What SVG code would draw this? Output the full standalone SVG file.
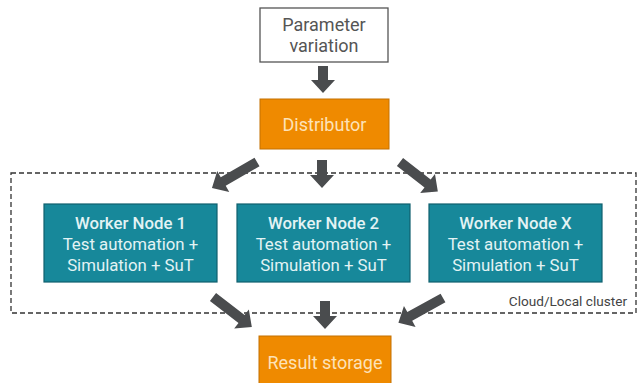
<svg xmlns="http://www.w3.org/2000/svg" width="637" height="383" viewBox="0 0 637 383">
<style>
text{font-family:"Roboto","Liberation Sans",sans-serif;text-anchor:middle}
.org{fill:#ef8a00;stroke:#c47000;stroke-width:1}
.wk{fill:#17889a;stroke:#10606e;stroke-width:1.2}
.wt{fill:#e3f3f4;font-size:16.8px}
.ot{fill:#fde2b8;font-size:18px}
.arr{fill:#4a4c4e}
</style>
<rect width="637" height="383" fill="#ffffff"/>
<g id="cluster">
<rect x="11" y="173" width="625" height="140" fill="none" stroke="#333" stroke-width="1.3" stroke-dasharray="5,3"/>
<text x="627" y="306" style="text-anchor:end;font-size:13.6px;fill:#444">Cloud/Local cluster</text>
</g>
<g id="param">
<rect x="260" y="8" width="128" height="54" fill="#fff" stroke="#555" stroke-width="1.3"/>
<text x="324" y="31" style="font-size:18px;fill:#555">Parameter</text>
<text x="324" y="52" style="font-size:18px;fill:#555">variation</text>
</g>
<g id="distributor">
<rect class="org" x="260" y="99" width="129" height="50"/>
<text class="ot" x="324.5" y="131">Distributor</text>
</g>
<g id="worker1">
<rect class="wk" x="44" y="204" width="173" height="78"/>
<text class="wt" x="130.5" y="229" font-weight="500">Worker Node 1</text>
<text class="wt" x="130.5" y="250">Test automation +</text>
<text class="wt" x="130.5" y="271">Simulation + SuT</text>
</g>
<g id="worker2">
<rect class="wk" x="237" y="204" width="173" height="78"/>
<text class="wt" x="323.5" y="229" font-weight="500">Worker Node 2</text>
<text class="wt" x="323.5" y="250">Test automation +</text>
<text class="wt" x="323.5" y="271">Simulation + SuT</text>
</g>
<g id="workerX">
<rect class="wk" x="429" y="204" width="173" height="78"/>
<text class="wt" x="515.5" y="229" font-weight="500">Worker Node X</text>
<text class="wt" x="515.5" y="250">Test automation +</text>
<text class="wt" x="515.5" y="271">Simulation + SuT</text>
</g>
<g id="result">
<rect class="org" x="259" y="336" width="132" height="52"/>
<text class="ot" x="325" y="369">Result storage</text>
</g>
<g id="connectors">
<path class="arr" transform="translate(323,66) rotate(90)" d="M0,-5 L14,-5 L14,-12 L27,0 L14,12 L14,5 L0,5 Z"/>
<path class="arr" transform="translate(257,162) rotate(150)" d="M0,-5 L39,-5 L39,-12 L52,0 L39,12 L39,5 L0,5 Z"/>
<path class="arr" transform="translate(322,160) rotate(90)" d="M0,-5 L15,-5 L15,-12 L28,0 L15,12 L15,5 L0,5 Z"/>
<path class="arr" transform="translate(400,162) rotate(38)" d="M0,-5 L35,-5 L35,-12 L48,0 L35,12 L35,5 L0,5 Z"/>
<path class="arr" transform="translate(213,297) rotate(37.6)" d="M0,-5 L36,-5 L36,-12 L49,0 L36,12 L36,5 L0,5 Z"/>
<path class="arr" transform="translate(325,301) rotate(90)" d="M0,-5 L15,-5 L15,-12 L28,0 L15,12 L15,5 L0,5 Z"/>
<path class="arr" transform="translate(443,298) rotate(151)" d="M0,-5 L38,-5 L38,-12 L51,0 L38,12 L38,5 L0,5 Z"/>
</g>
</svg>
